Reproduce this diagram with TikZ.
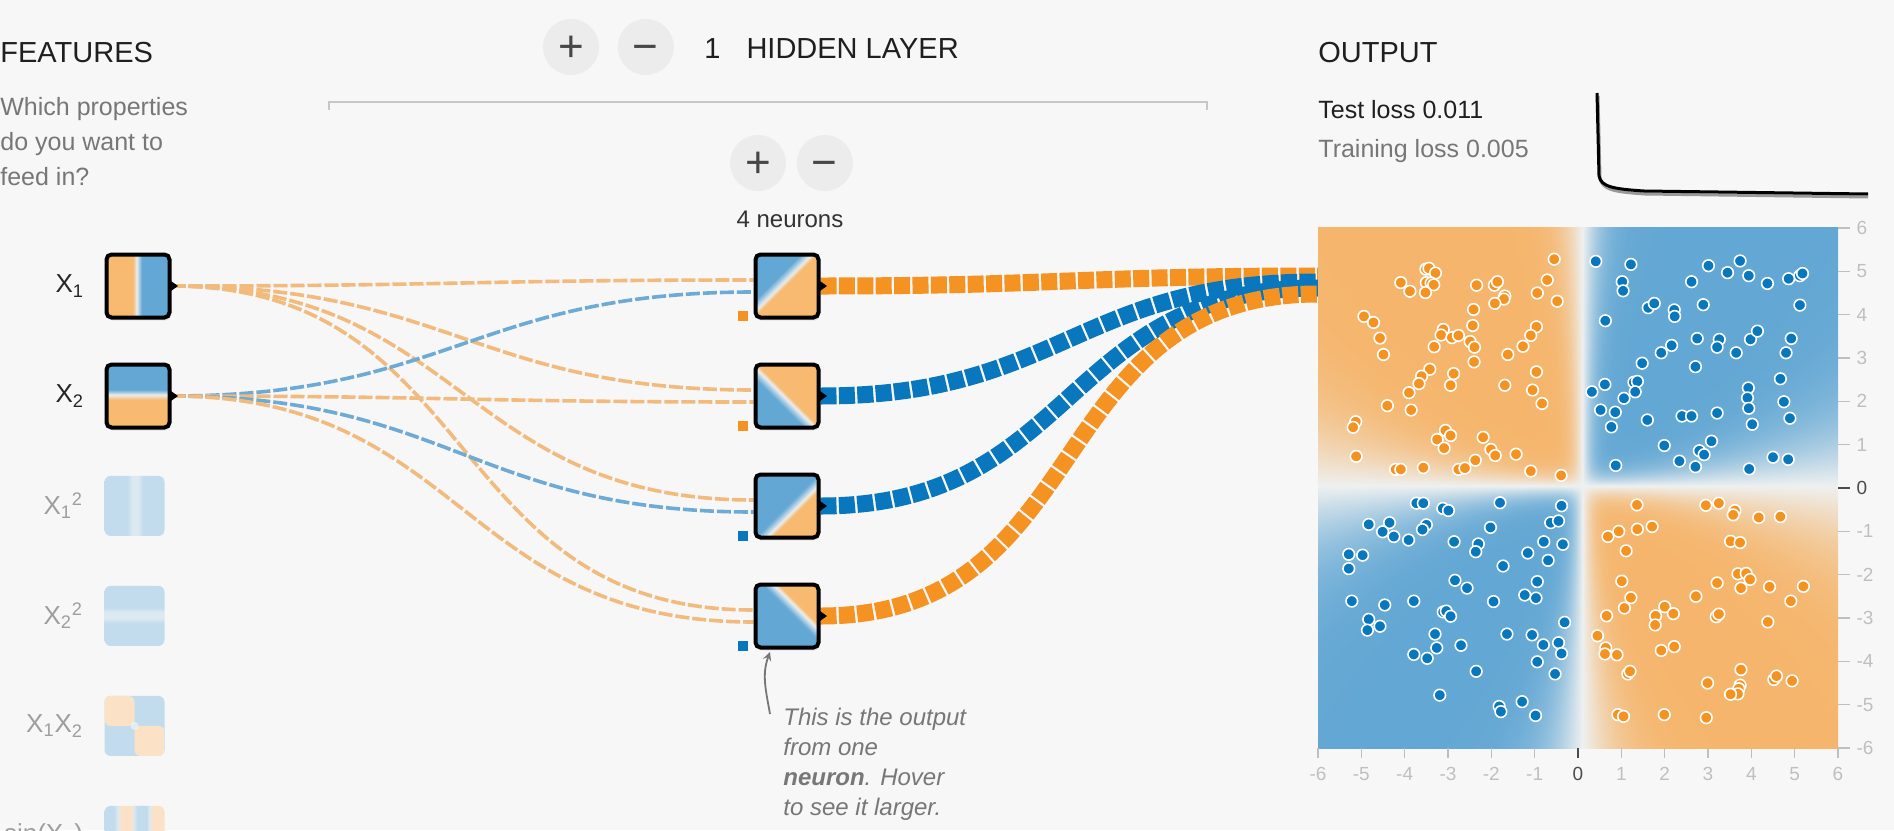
\documentclass[tikz,border=0pt]{standalone}
\usepackage{fontspec}
\setmainfont{Liberation Sans}
\usetikzlibrary{positioning,arrows,shadows}

\definecolor{pgBg}{HTML}{F7F7F7}
\definecolor{pgOrange}{HTML}{F59322}
\definecolor{pgBlue}{HTML}{0877BD}
\definecolor{thOrange}{HTML}{F7BA70}
\definecolor{thBlue}{HTML}{63A8D5}
\definecolor{thWhite}{HTML}{EAEDEE}
\definecolor{paleOrange}{HTML}{FBE2C6}
\definecolor{paleBlue}{HTML}{C2DCEE}
\definecolor{paleWhite}{HTML}{DCE9F1}
\definecolor{wireOrange}{HTML}{F2BA7C}
\definecolor{wireBlue}{HTML}{6DAAD6}
\definecolor{txtGray}{HTML}{777777}
\definecolor{btnGray}{HTML}{ECECEC}

% thumbnails of the units
\pgfdeclarehorizontalshading{xone}{100bp}{color(0bp)=(thOrange); color(46bp)=(thOrange); color(49bp)=(thWhite); color(53bp)=(thBlue); color(100bp)=(thBlue)}
\pgfdeclareverticalshading{xtwo}{100bp}{color(0bp)=(thOrange); color(47bp)=(thOrange); color(51bp)=(thWhite); color(55bp)=(thBlue); color(100bp)=(thBlue)}
\pgfdeclarehorizontalshading{xonesq}{100bp}{color(0bp)=(paleBlue); color(44bp)=(paleBlue); color(48bp)=(paleWhite); color(53bp)=(paleWhite); color(57bp)=(paleBlue); color(100bp)=(paleBlue)}
\pgfdeclareverticalshading{xtwosq}{100bp}{color(0bp)=(paleBlue); color(44bp)=(paleBlue); color(48bp)=(paleWhite); color(53bp)=(paleWhite); color(57bp)=(paleBlue); color(100bp)=(paleBlue)}
\pgfdeclarehorizontalshading{sinxone}{100bp}{color(0bp)=(paleBlue); color(33bp)=(paleBlue); color(36bp)=(paleWhite); color(39bp)=(paleOrange); color(47bp)=(paleOrange); color(49.5bp)=(paleWhite); color(52bp)=(paleBlue); color(60bp)=(paleBlue); color(62.5bp)=(paleWhite); color(65bp)=(paleOrange); color(100bp)=(paleOrange)}
\pgfdeclarehorizontalshading{hone}{100bp}{color(0bp)=(thBlue); color(40bp)=(thBlue); color(46bp)=(thWhite); color(49bp)=(thOrange); color(100bp)=(thOrange)}
\pgfdeclarehorizontalshading{htwo}{100bp}{color(0bp)=(thBlue); color(42bp)=(thBlue); color(48bp)=(thWhite); color(51bp)=(thOrange); color(100bp)=(thOrange)}
\pgfdeclarehorizontalshading{hthree}{100bp}{color(0bp)=(thBlue); color(50bp)=(thBlue); color(56bp)=(thWhite); color(59bp)=(thOrange); color(100bp)=(thOrange)}
\pgfdeclarehorizontalshading{hfour}{100bp}{color(0bp)=(thBlue); color(54bp)=(thBlue); color(60bp)=(thWhite); color(63bp)=(thOrange); color(100bp)=(thOrange)}

% decision surface of the output: the middle 50bp square is the -6..6 plot
\pgfdeclarefunctionalshading{surface}{\pgfpoint{-50bp}{-50bp}}{\pgfpoint{50bp}{50bp}}{}{
  0.24 mul exch 0.24 mul exch
  1 index 0.1 sub 3.6 mul
  1 index dup mul
  2 index 0 lt {0.08} {0.03} ifelse
  mul 1 add div
  dup 4 gt {pop 4} if dup -4 lt {pop -4} if
  2 mul 2.71828 exch exp 1 add 2 exch div 1 exch sub
  1 index 0.05 sub 3 mul
  3 index dup mul 0.13 mul 1 add div
  dup 4 gt {pop 4} if dup -4 lt {pop -4} if
  2 mul 2.71828 exch exp 1 add 2 exch div 1 exch sub
  mul exch pop exch pop
  dup 0 lt
    {neg dup 0.028 mul 0.933 add exch dup -0.231 mul 0.941 add exch -0.517 mul 0.941 add}
    {dup -0.545 mul 0.933 add exch dup -0.286 mul 0.941 add exch -0.110 mul 0.941 add}
  ifelse
}

\pgfdeclarelayer{bg}
\pgfdeclarelayer{wires}
\pgfsetlayers{bg,wires,main}

\tikzset{
  unit/.style={draw=black, line width=2pt, rounded corners=2.5pt, minimum size=31.5pt, inner sep=0pt,
    drop shadow={opacity=.15, shadow xshift=.5pt, shadow yshift=-1.5pt}},
  faded/.style={rounded corners=3pt, minimum size=30pt, inner sep=0pt},
  flab/.style={font=\fontsize{13}{15}\selectfont, text=black!85, inner sep=0pt},
  flabfaded/.style={flab, text=black!38},
  marker/.style={fill=black},
  bias/.style={minimum size=5pt, inner sep=0pt},
  btn/.style={circle, fill=btnGray, minimum size=28pt, inner sep=0pt, text height=14.5pt, text depth=0pt,
    font=\fontsize{22}{22}\selectfont, text=black!72},
  title/.style={font=\fontsize{14.5}{17}\selectfont, text=black!88, inner sep=0pt, anchor=base west},
  hint/.style={font=\fontsize{12.5}{17.5}\selectfont, text=txtGray, inner sep=0pt, align=left, anchor=north west},
  loss/.style={font=\fontsize{12.5}{15}\selectfont, text=black!88, inner sep=0pt, anchor=base west},
  wire/.style={line width=1.8pt, dash pattern=on 7pt off 1.5pt},
  weight/.style={line width=8.5pt, dash pattern=on 8pt off 1.2pt},
  dot/.style={draw=white, line width=.8pt},
  axlab/.style={font=\fontsize{9.5}{11}\selectfont, inner sep=0pt},
}

\begin{document}
\begin{tikzpicture}[x=0.5pt, y=-0.5pt]
  \useasboundingbox (0,0) rectangle (1894,830);
  \begin{pgfonlayer}{bg}
    \fill[pgBg] (0,0) rectangle (1894,830);
  \end{pgfonlayer}

  % headers
  \node[title] (feat) at (0,62) {FEATURES};
  \node[hint] (ask) at (0,97) {Which properties\\do you want to\\feed in?};
  \node[btn] (addlayer) at (571,47) {+};
  \node[btn, right=9pt of addlayer] (droplayer) {−};
  \node[title] (layers) at (704,58) {1\hspace{13pt}HIDDEN LAYER};
  \draw[black!22, line width=1pt] (329,110) |- (1207,102) -- ++(0,8);
  \node[btn] (addunit) at (758,163) {+};
  \node[btn, right=5pt of addunit] (dropunit) {−};
  \node[font=\fontsize{12}{14}\selectfont, text=black!80, anchor=base, inner sep=0pt] (count) at (790,227) {4 neurons};

  % features
  \node[unit, shading=xone] (x1) at (138,286) {};
  \node[unit, shading=xtwo, below=21.5pt of x1] (x2) {};
  \node[faded, shading=xonesq, below=23pt of x2, xshift=-1.75pt] (x1sq) {};
  \node[faded, shading=xtwosq, below=24.6pt of x1sq] (x2sq) {};
  \node[faded, fill=paleBlue, below=24.6pt of x2sq, path picture={
      \fill[paleOrange] (path picture bounding box.north west) rectangle (path picture bounding box.center);
      \fill[paleOrange] (path picture bounding box.south east) rectangle (path picture bounding box.center);
      \fill[white, opacity=.5] (path picture bounding box.center) circle (2pt);}] (x1x2) {};
  \node[faded, shading=sinxone, below=24.6pt of x1x2] (sinx1) {};

  \node[flab, left=10pt of x1] (lx1) {X\textsubscript{1}};
  \node[flab, left=10pt of x2] (lx2) {X\textsubscript{2}};
  \node[flabfaded, left=10.3pt of x1sq] (lx1sq) {X\textsubscript{1}\textsuperscript{2}};
  \node[flabfaded, left=10.3pt of x2sq] (lx2sq) {X\textsubscript{2}\textsuperscript{2}};
  \node[flabfaded, left=10.3pt of x1x2] (lx1x2) {X\textsubscript{1}X\textsubscript{2}};
  \node[flabfaded, left=10.3pt of sinx1] (lsinx1) {sin(X\textsubscript{1})};

  % hidden layer
  \node[unit, shading=hone, shading angle=-45] (h1) at (787,286) {};
  \node[unit, shading=htwo, shading angle=45, below=21.5pt of h1] (h2) {};
  \node[unit, shading=hthree, shading angle=-45, below=21.5pt of h2] (h3) {};
  \node[unit, shading=hfour, shading angle=45, below=21.5pt of h3] (h4) {};
  \node[bias, fill=pgOrange] (b1) at ([xshift=-5.5pt,yshift=2pt]h1.south west) {};
  \node[bias, fill=pgOrange] (b2) at ([xshift=-5.5pt,yshift=2pt]h2.south west) {};
  \node[bias, fill=pgBlue] (b3) at ([xshift=-5.5pt,yshift=2pt]h3.south west) {};
  \node[bias, fill=pgBlue] (b4) at ([xshift=-5.5pt,yshift=2pt]h4.south west) {};
  \foreach \n in {x1,x2,h1,h2,h3,h4}
    \fill[marker] ([xshift=-1pt]\n.east) ++(0,-6) -- ++(8.5,6) -- ++(-8.5,6) -- cycle;

  % output
  \coordinate (output) at (1318,285);
  \coordinate (o1) at ([yshift=4.5pt]output);
  \coordinate (o2) at ([yshift=1.5pt]output);
  \coordinate (o3) at ([yshift=-1.5pt]output);
  \coordinate (o4) at ([yshift=-4.5pt]output);

  \begin{pgfonlayer}{wires}
    \draw[wire, wireOrange] (x1.east) to[out=0,in=180,looseness=1.2] ([yshift=3pt]h1.west);
    \draw[wire, wireOrange] (x1.east) to[out=0,in=180,looseness=1.2] ([yshift=3pt]h2.west);
    \draw[wire, wireOrange] (x1.east) to[out=0,in=180,looseness=1.2] ([yshift=3pt]h3.west);
    \draw[wire, wireOrange] (x1.east) to[out=0,in=180,looseness=1.2] ([yshift=3pt]h4.west);
    \draw[wire, wireBlue] (x2.east) to[out=0,in=180,looseness=1.2] ([yshift=-3pt]h1.west);
    \draw[wire, wireOrange] (x2.east) to[out=0,in=180,looseness=1.2] ([yshift=-3pt]h2.west);
    \draw[wire, wireBlue] (x2.east) to[out=0,in=180,looseness=1.2] ([yshift=-3pt]h3.west);
    \draw[wire, wireOrange] (x2.east) to[out=0,in=180,looseness=1.2] ([yshift=-3pt]h4.west);
    \draw[weight, pgOrange] (h1.east) to[out=0,in=180,looseness=1.2] (o1);
    \draw[weight, pgBlue] (h2.east) to[out=0,in=180,looseness=1.2] (o2);
    \draw[weight, pgBlue] (h3.east) to[out=0,in=180,looseness=1.2] (o3);
    \draw[weight, pgOrange] (h4.east) to[out=0,in=180,looseness=1.2] (o4);
  \end{pgfonlayer}

  % hint under the last neuron
  \node[hint, font=\itshape\fontsize{12}{15}\selectfont] (tip) at (783,708)
    {This is the output\\from one\\\textbf{neuron}. Hover\\to see it larger.};
  \draw[->, >=stealth, txtGray, line width=.9pt] ([xshift=-6.5pt,yshift=-3pt]tip.north west)
    to[out=100,in=250] ([xshift=8.25pt,yshift=-1.25pt]h4.south west);

  % output panel
  \node[title] (outtitle) at (1318,62) {OUTPUT};
  \node[loss] (testloss) at (1318,118) {Test loss 0.011};
  \node[loss, text=txtGray] (trainloss) at (1318,157) {Training loss 0.005};
  \draw[black!40, line width=1.5pt] (1598,96) -- (1600,178) .. controls (1602,190) and (1615,192) .. (1645,194) -- (1868,197);
  \draw[black, line width=1.5pt] (1597,93) -- (1599,176) .. controls (1601,187) and (1614,189) .. (1644,191) -- (1868,194);

  \begin{scope}[shift={(1578,488)}, x=21.667pt, y=21.667pt]
    \shade[shading=surface] (-6,-6) rectangle (6,6);
    % axes
    \foreach \v in {-6,...,6}{
      \ifnum\v=0 \def\ac{black!70}\else\def\ac{black!25}\fi
      \draw[\ac, line width=.6pt] (6,\v) -- (6.28,\v);
      \draw[\ac, line width=.6pt] (\v,-6) -- (\v,-6.23);
      \node[axlab, text=\ac, anchor=west] at (6.42,\v) {\v};
      \node[axlab, text=\ac, anchor=north] at (\v,-6.44) {\v};
    }
    % data
    \foreach \px/\py in {-0.55/5.28, -0.71/4.80, -0.94/4.50, -0.48/4.31, -2.34/4.68, -1.93/4.68, -1.86/4.76, -1.69/4.43,
        -1.71/4.36, -1.92/4.26, -2.41/4.12, -3.51/5.05, -3.44/5.07, -3.29/4.96, -3.50/4.74, -3.39/4.73, -3.33/4.69,
        -4.09/4.74, -3.88/4.54, -3.52/4.51, -4.94/3.96, -4.72/3.82, -4.57/3.46, -4.49/3.08, -3.11/3.66, -3.16/3.53,
        -2.91/3.47, -2.76/3.52, -2.43/3.75, -2.49/3.38, -2.39/3.25, -3.32/3.26, -2.40/2.91, -0.96/3.72, -1.09/3.52,
        -1.27/3.27, -1.62/3.08, -3.42/2.74, -3.61/2.58, -3.67/2.41, -3.90/2.20, -2.87/2.64, -2.94/2.37, -4.40/1.90,
        -3.85/1.80, -1.69/2.37, -1.05/2.26, -0.96/2.68, -0.83/1.95, -5.13/1.53, -5.19/1.40, -5.12/0.73, -3.06/1.33,
        -3.25/1.12, -2.94/1.21, -3.09/0.92, -2.19/1.17, -2.01/0.89, -1.91/0.75, -1.43/0.78, -4.21/0.43, -4.09/0.43,
        -3.57/0.47, -2.76/0.43, -2.61/0.46, -2.37/0.64, -1.09/0.39, -0.39/0.29,
        1.36/-0.39, 2.95/-0.40, 3.25/-0.35, 3.62/-0.52, 3.58/-0.62, 4.17/-0.68, 4.67/-0.66, 0.94/-1.00, 1.37/-0.95,
        1.71/-0.89, 0.69/-1.12, 3.52/-1.23, 3.74/-1.26, 1.11/-1.45, 1.01/-2.15, 3.21/-2.19, 3.69/-1.98, 3.88/-1.97,
        3.97/-2.11, 3.76/-2.31, 4.42/-2.28, 5.20/-2.27, 2.72/-2.50, 4.91/-2.61, 1.22/-2.53, 1.07/-2.77, 2.00/-2.74,
        2.20/-2.90, 1.79/-2.95, 1.78/-3.16, 0.66/-2.95, 3.19/-2.97, 3.25/-2.91, 4.38/-3.09, 0.45/-3.41, 0.64/-3.69,
        0.62/-3.83, 0.90/-3.85, 1.92/-3.75, 2.22/-3.66, 3.76/-4.19, 1.15/-4.29, 1.20/-4.23, 2.99/-4.50, 3.74/-4.55,
        3.71/-4.63, 3.69/-4.75, 3.52/-4.76, 4.52/-4.42, 4.58/-4.34, 4.94/-4.45, 0.92/-5.23, 1.05/-5.27, 1.99/-5.23,
        2.96/-5.30}
      \path[dot, fill=pgOrange] (\px,\py) circle[radius=2.9pt];
    \foreach \px/\py in {0.41/5.23, 1.22/5.16, 3.01/5.13, 3.45/4.97, 3.74/5.24, 3.94/4.90, 4.37/4.72, 4.86/4.83,
        5.12/4.90, 5.18/4.95, 1.02/4.76, 1.04/4.55, 2.62/4.76, 1.62/4.16, 1.76/4.26, 2.22/4.11, 2.23/3.96, 2.89/4.23,
        5.12/4.22, 0.63/3.86, 2.75/3.45, 3.26/3.43, 3.21/3.25, 3.98/3.43, 4.14/3.62, 4.92/3.45, 2.16/3.29, 1.92/3.12,
        3.65/3.12, 4.80/3.12, 1.48/2.88, 2.71/2.80, 0.32/2.22, 0.62/2.39, 1.29/2.44, 1.37/2.46, 1.32/2.22, 1.06/2.07,
        3.93/2.31, 3.91/2.08, 3.94/1.84, 4.67/2.52, 4.75/1.99, 4.89/1.61, 4.02/1.47, 0.52/1.80, 0.86/1.75, 0.77/1.41,
        1.60/1.57, 2.40/1.66, 2.62/1.66, 3.21/1.73, 1.99/0.98, 3.08/1.08, 2.80/0.86, 2.91/0.77, 2.34/0.62, 2.71/0.49,
        0.87/0.52, 3.95/0.44, 4.50/0.71, 4.85/0.66,
        -3.73/-0.35, -3.57/-0.35, -3.12/-0.47, -2.99/-0.52, -1.80/-0.34, -0.38/-0.41, -4.83/-0.84, -4.35/-0.80,
        -4.51/-1.01, -4.25/-1.12, -3.50/-0.85, -3.59/-0.96, -2.02/-0.91, -0.63/-0.80, -0.45/-0.76, -3.91/-1.20,
        -2.86/-1.24, -2.30/-1.29, -2.36/-1.47, -0.79/-1.24, -0.35/-1.30, -1.16/-1.50, -0.69/-1.67, -1.73/-1.80,
        -5.29/-1.53, -4.97/-1.55, -5.29/-1.86, -2.84/-2.13, -2.56/-2.31, -0.94/-2.16, -1.23/-2.47, -0.97/-2.54,
        -1.95/-2.62, -5.22/-2.61, -4.46/-2.70, -3.79/-2.61, -3.11/-2.86, -3.04/-2.84, -2.94/-2.96, -4.83/-3.03,
        -4.86/-3.28, -4.57/-3.19, -3.30/-3.37, -3.26/-3.69, -2.70/-3.63, -1.64/-3.37, -1.06/-3.39, -0.80/-3.62,
        -0.45/-3.57, -0.38/-3.82, -0.31/-3.10, -0.94/-4.01, -3.79/-3.84, -3.48/-3.93, -2.35/-4.23, -0.53/-4.29,
        -3.19/-4.78, -1.82/-5.04, -1.78/-5.16, -1.29/-4.93, -0.98/-5.25}
      \path[dot, fill=pgBlue] (\px,\py) circle[radius=2.9pt];
  \end{scope}
\end{tikzpicture}
\end{document}
